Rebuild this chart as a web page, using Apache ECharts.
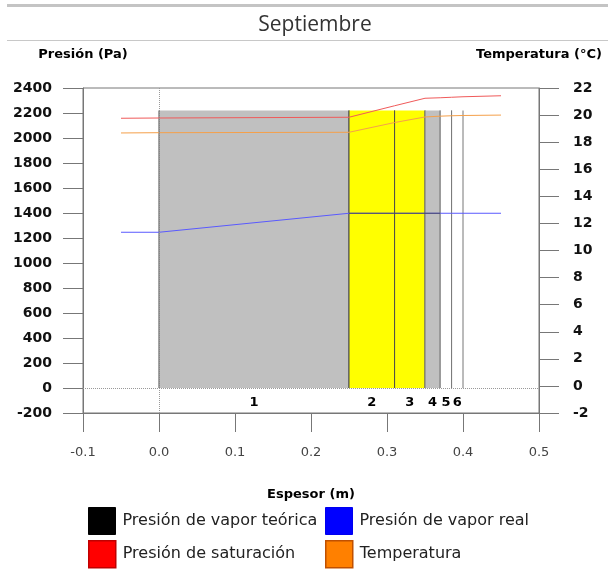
<!DOCTYPE html>
<html>
<head>
<meta charset="utf-8">
<script src="https://cdn.jsdelivr.net/npm/echarts@6/dist/echarts.min.js"></script>
<style>
html,body{margin:0;padding:0;background:#fff;}
#c{width:608px;height:581px;}
</style>
</head>
<body>
<div id="c"></div>
<script>
// ---- data ----
const titleText = 'Septiembre';
const layerStart = [0, 0.25, 0.31, 0.35, 0.37, 0.385];
const layerEnd = [0.25, 0.31, 0.35, 0.37, 0.385, 0.40];
const layerNames = ['1', '2', '3', '4', '5', '6'];
const layerTop = 2220;
const layerLabelLevel = -120;

const thickness = [-0.05, 0, 0.25, 0.31, 0.35, 0.37, 0.385, 0.40, 0.45];
const pSat = [2158, 2160, 2166, 2258, 2318, 2322, 2326, 2330, 2338];
const pReal = [1246, 1246, 1398, 1398, 1398, 1398, 1398, 1398, 1398];
const tempC = [18.68, 18.70, 18.73, 19.45, 19.86, 19.92, 19.95, 19.97, 20.0];
const pTheoX = [0.25, 0.37];
const pTheo = [1398, 1398];

const seriesNames = ['Presión de vapor teórica', 'Presión de vapor real', 'Presión de saturación', 'Temperatura'];

// ---- styles ----
const layerFill = ['#c0c0c0', '#ffff00', '#ffff00', '#c0c0c0', '#ffffff', '#ffffff'];
const FONT = 'DejaVu Sans';

const chart = echarts.init(document.getElementById('c'), null, {renderer: 'canvas'});

const layerData = layerStart.map((s, i) => [s, layerEnd[i], layerTop, layerLabelLevel, i]);

function renderLayer(params, api) {
  const x0 = api.value(0), x1 = api.value(1), h = api.value(2), ly = api.value(3), idx = api.value(4);
  const pTL = api.coord([x0, h]);
  const pBR = api.coord([x1, 0]);
  const pLab = api.coord([(x0 + x1) / 2, ly]);
  const lineCol = idx >= 3 ? '#777' : '#4a4a4a';
  return {
    type: 'group',
    children: [
      {type: 'rect', shape: {x: pTL[0], y: pTL[1], width: pBR[0] - pTL[0], height: pBR[1] - pTL[1]},
        style: {fill: layerFill[idx], stroke: null}},
      {type: 'line', shape: {x1: pTL[0], y1: pTL[1], x2: pTL[0], y2: pBR[1]},
        style: {stroke: idx === 0 ? '#4a4a4a' : lineCol, lineWidth: 1}},
      {type: 'line', shape: {x1: pBR[0], y1: pTL[1], x2: pBR[0], y2: pBR[1]},
        style: {stroke: lineCol, lineWidth: 1}},
      {type: 'text', style: {text: layerNames[idx], x: pLab[0], y: pLab[1], align: 'center', verticalAlign: 'middle',
        fontSize: 13, fontWeight: 'bold', fontFamily: FONT, fill: '#000'}}
    ]
  };
}

const legendPos = [[88, 507], [325, 507], [88, 540], [325, 540]];
const legendStyles = [
  {color: '#000000', borderColor: '#000000', borderWidth: 1},
  {color: '#0000ff', borderColor: '#0000ee', borderWidth: 1},
  {color: '#ff0000', borderColor: '#c00000', borderWidth: 1.5},
  {color: '#ff8000', borderColor: '#c05000', borderWidth: 1.5}
];

const option = {
  animation: false,
  backgroundColor: '#ffffff',
  title: {
    text: titleText, top: 10, left: 310, textAlign: 'center',
    textStyle: {fontFamily: 'Open Sans', fontSize: 21, fontWeight: 'normal', color: '#333'}
  },
  graphic: [
    {type: 'rect', shape: {x: 7, y: 4, width: 601, height: 3}, style: {fill: '#c4c4c4'}},
    {type: 'rect', shape: {x: 7, y: 40, width: 601, height: 1}, style: {fill: '#c8c8c8'}}
  ],
  legend: seriesNames.map((n, i) => ({
    data: [{name: n, icon: 'rect', itemStyle: legendStyles[i]}],
    left: legendPos[i][0], top: legendPos[i][1],
    itemWidth: 27, itemHeight: 27, selectedMode: false, padding: 0,
    textStyle: {fontFamily: FONT, fontSize: 16, color: '#222', padding: [0, 0, 0, 2]}
  })),
  grid: {left: 83, right: 69, top: 88, bottom: 168, show: true, borderColor: '#777', borderWidth: 1, backgroundColor: 'transparent'},
  xAxis: {
    type: 'value', min: -0.1, max: 0.5, interval: 0.1,
    name: 'Espesor (m)', nameLocation: 'middle', nameGap: 82,
    nameTextStyle: {fontFamily: FONT, fontSize: 13, fontWeight: 'bold', color: '#000', verticalAlign: 'middle'},
    axisLine: {onZero: false, lineStyle: {color: '#777'}},
    axisTick: {length: 19, lineStyle: {color: '#777'}},
    axisLabel: {margin: 33, fontFamily: FONT, fontSize: 13, color: '#444', formatter: v => v.toFixed(1)},
    splitLine: {show: false}
  },
  yAxis: [
    {
      type: 'value', min: -200, max: 2400, interval: 200, position: 'left',
      name: 'Presión (Pa)', nameLocation: 'end', nameGap: 33,
      nameTextStyle: {fontFamily: FONT, fontSize: 13, fontWeight: 'bold', color: '#000', align: 'center', verticalAlign: 'middle'},
      axisLine: {show: true, onZero: false, lineStyle: {color: '#777'}},
      axisTick: {show: true, length: 20, lineStyle: {color: '#777'}},
      axisLabel: {margin: 31, fontFamily: FONT, fontSize: 14, fontWeight: 'bold', color: '#111', padding: [3, 0, 0, 0], formatter: v => String(v)},
      splitLine: {show: false}
    },
    {
      type: 'value', min: -2, max: 22, interval: 2, position: 'right',
      name: 'Temperatura (°C)', nameLocation: 'end', nameGap: 33,
      nameTextStyle: {fontFamily: FONT, fontSize: 13, fontWeight: 'bold', color: '#000', align: 'center', verticalAlign: 'middle'},
      axisLine: {show: true, onZero: false, lineStyle: {color: '#777'}},
      axisTick: {show: true, length: 20, lineStyle: {color: '#777'}},
      axisLabel: {margin: 34, fontFamily: FONT, fontSize: 14, fontWeight: 'bold', color: '#111', padding: [3, 0, 0, 0], formatter: v => String(v)},
      splitLine: {show: false}
    }
  ],
  series: [
    {
      type: 'custom', renderItem: renderLayer, data: layerData, z: 1, silent: true,
      encode: {x: [0, 1], y: [2, 3]},
      markLine: {
        silent: true, symbol: ['none', 'none'], label: {show: false},
        lineStyle: {type: 'dotted', color: '#999', width: 1},
        data: [{yAxis: 0}, {xAxis: 0}]
      }
    },
    {
      name: seriesNames[1], type: 'line', yAxisIndex: 0, z: 3, symbol: 'none',
      data: thickness.map((x, i) => [x, pReal[i]]),
      lineStyle: {color: '#5a5aff', width: 1}, itemStyle: {color: '#0000ff'}
    },
    {
      name: seriesNames[0], type: 'line', yAxisIndex: 0, z: 4, symbol: 'none',
      data: pTheoX.map((x, i) => [x, pTheo[i]]),
      lineStyle: {color: 'rgba(60,60,60,0.75)', width: 1}, itemStyle: {color: '#000'}
    },
    {
      name: seriesNames[2], type: 'line', yAxisIndex: 0, z: 3, symbol: 'none',
      data: thickness.map((x, i) => [x, pSat[i]]),
      lineStyle: {color: '#f05a5a', width: 1}, itemStyle: {color: '#ff0000'}
    },
    {
      name: seriesNames[3], type: 'line', yAxisIndex: 1, z: 3, symbol: 'none',
      data: thickness.map((x, i) => [x, tempC[i]]),
      lineStyle: {color: '#f5a04a', width: 1}, itemStyle: {color: '#ff8000'}
    }
  ]
};
chart.setOption(option);
</script>
</body>
</html>
